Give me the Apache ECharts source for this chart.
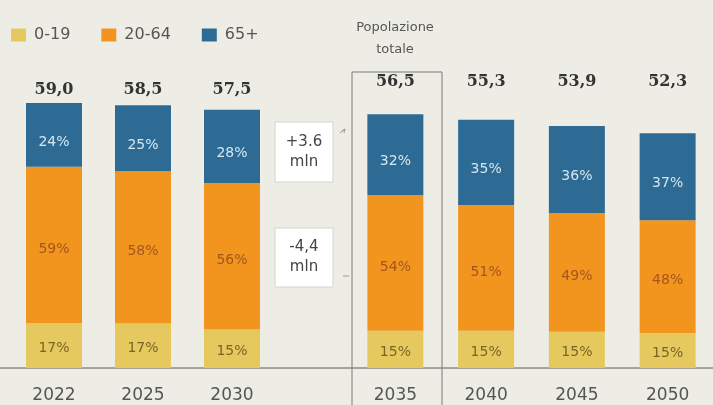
<!DOCTYPE html>
<html>
<head>
<meta charset="utf-8">
<script src="https://cdn.jsdelivr.net/npm/echarts@6/dist/echarts.min.js"></script>
<style>
html,body{margin:0;padding:0;background:#edede6;}
#chart{width:713px;height:405px;}
</style>
</head>
<body>
<div id="chart"></div>
<script>
// Data (millions of people)
const years = ['2022', '2025', '2030', '2035', '2040', '2045', '2050'];
const totalLabels = ['59,0', '58,5', '57,5', '56,5', '55,3', '53,9', '52,3'];
const young = [10.0, 9.9, 8.6, 8.3, 8.3, 8.1, 7.8];      // 0-19
const working = [34.8, 33.9, 32.6, 30.2, 28.0, 26.4, 25.1]; // 20-64
const old = [14.2, 14.7, 16.3, 18.0, 19.0, 19.4, 19.4];   // 65+
const youngPct = [17, 17, 15, 15, 15, 15, 15];
const workingPct = [59, 58, 56, 54, 51, 49, 48];
const oldPct = [24, 25, 28, 32, 35, 36, 37];
const seriesNames = ['0-19', '20-64', '65+'];
const annotations = ['+3.6\nmln', '-4,4\nmln'];
const boxTitle = 'Popolazione\ntotale';

const colors = ['#e5c95f', '#f2951f', '#2d6b94'];
const labelColors = ['#7a6526', '#a4561c', '#d5e6ef'];
const labelOffsets = [[0, 3], [0, 4], [0, 7]];
const groups = [[0, 3], [3, 7]];
const totalMargins = [1, 9];

const chart = echarts.init(document.getElementById('chart'));

const grids = [
  {left: 9.5, width: 267, top: 98.6, height: 269.4},
  {left: 350, width: 375, top: 98.6, height: 269.4}
];
const xAxes = [];
groups.forEach((g, i) => {
  xAxes.push({
    type: 'category', gridIndex: i, data: years.slice(g[0], g[1]),
    axisLine: {show: false}, axisTick: {show: false},
    axisLabel: {margin: 19, fontSize: 17, color: '#555', fontFamily: 'DejaVu Sans'}
  });
  xAxes.push({
    type: 'category', gridIndex: i, position: 'top', data: totalLabels.slice(g[0], g[1]),
    axisLine: {show: false}, axisTick: {show: false},
    axisLabel: {margin: totalMargins[i], fontSize: 16, fontWeight: 'bold',
      color: '#333', fontFamily: 'DejaVu Serif'}
  });
});
const yAxes = groups.map((g, i) => ({
  type: 'value', gridIndex: i, min: 0, max: 60, show: false, splitLine: {show: false}
}));

const layers = [young, working, old];
const pcts = [youngPct, workingPct, oldPct];
const series = [];
groups.forEach((g, gi) => {
  layers.forEach((arr, li) => {
    const p = pcts[li].slice(g[0], g[1]);
    series.push({
      name: seriesNames[li], type: 'bar', stack: 'g' + gi,
      xAxisIndex: gi * 2, yAxisIndex: gi, barWidth: 56,
      data: arr.slice(g[0], g[1]),
      itemStyle: {color: colors[li]},
      label: {
        show: true, position: 'inside', offset: labelOffsets[li],
        formatter: (d) => p[d.dataIndex] + '%',
        color: labelColors[li], fontSize: 14, fontFamily: 'DejaVu Sans'
      },
      emphasis: {disabled: true}
    });
  });
});

chart.setOption({
  backgroundColor: '#edede6',
  animation: false,
  legend: {
    data: seriesNames, left: 6, top: 22, itemWidth: 15, itemHeight: 13, itemGap: 31,
    icon: 'rect',
    textStyle: {fontSize: 16, color: '#555', fontFamily: 'DejaVu Sans', padding: [0, 0, 0, 3]}
  },
  grid: grids,
  xAxis: xAxes,
  yAxis: yAxes,
  series: series,
  graphic: [
    {type: 'line', shape: {x1: 0, y1: 368, x2: 713, y2: 368}, style: {stroke: '#5a5a5a', lineWidth: 1}},
    {type: 'polyline', shape: {points: [[352, 405], [352, 72], [442, 72], [442, 405]]},
      style: {stroke: '#7a7a7a', lineWidth: 1, fill: null}},
    {type: 'text', x: 395, y: 39, style: {text: boxTitle, textAlign: 'center', textVerticalAlign: 'middle',
      fontSize: 13, lineHeight: 22, fill: '#555', fontFamily: 'DejaVu Sans'}},
    {type: 'rect', shape: {x: 275, y: 122, width: 58, height: 60},
      style: {fill: '#ffffff', stroke: '#d4d4d0', lineWidth: 1}},
    {type: 'text', x: 304, y: 152, style: {text: annotations[0], textAlign: 'center', textVerticalAlign: 'middle',
      fontSize: 15, lineHeight: 20, fill: '#444', fontFamily: 'DejaVu Sans'}},
    {type: 'rect', shape: {x: 275, y: 228, width: 58, height: 59},
      style: {fill: '#ffffff', stroke: '#d4d4d0', lineWidth: 1}},
    {type: 'text', x: 304, y: 257, style: {text: annotations[1], textAlign: 'center', textVerticalAlign: 'middle',
      fontSize: 15, lineHeight: 20, fill: '#444', fontFamily: 'DejaVu Sans'}},
    {type: 'polyline', shape: {points: [[340, 133], [345, 129]]}, style: {stroke: '#999', lineWidth: 1}},
    {type: 'polyline', shape: {points: [[342, 131], [345, 129], [344, 133]]}, style: {stroke: '#999', lineWidth: 1, fill: null}},
    {type: 'polyline', shape: {points: [[343, 276], [349, 276]]}, style: {stroke: '#999', lineWidth: 1}}
  ]
});
</script>
</body>
</html>
